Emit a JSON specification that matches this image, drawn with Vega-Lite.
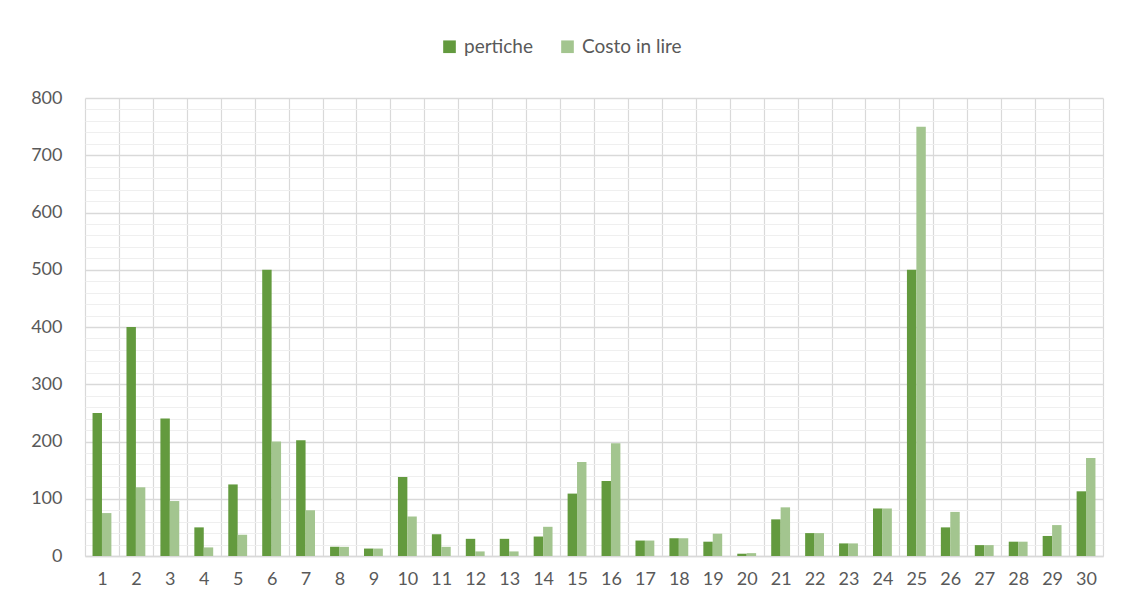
{
  "$schema": "https://vega.github.io/schema/vega-lite/v6.json",
  "width": 1018,
  "height": 458,
  "autosize": {"type": "none"},
  "padding": {"left": 85, "top": 98, "right": 22, "bottom": 58},
  "background": "#ffffff",
  "config": {
    "font": "Lato",
    "view": {"stroke": null},
    "axis": {"labelFont": "Lato", "labelColor": "#595959", "labelFontSize": 18}
  },
  "data": {
    "values": [
      {"n": 1, "serie": "pertiche", "valore": 250}, {"n": 1, "serie": "Costo in lire", "valore": 75},
      {"n": 2, "serie": "pertiche", "valore": 400}, {"n": 2, "serie": "Costo in lire", "valore": 120},
      {"n": 3, "serie": "pertiche", "valore": 240}, {"n": 3, "serie": "Costo in lire", "valore": 96},
      {"n": 4, "serie": "pertiche", "valore": 50}, {"n": 4, "serie": "Costo in lire", "valore": 15},
      {"n": 5, "serie": "pertiche", "valore": 125}, {"n": 5, "serie": "Costo in lire", "valore": 37},
      {"n": 6, "serie": "pertiche", "valore": 500}, {"n": 6, "serie": "Costo in lire", "valore": 200},
      {"n": 7, "serie": "pertiche", "valore": 202}, {"n": 7, "serie": "Costo in lire", "valore": 80},
      {"n": 8, "serie": "pertiche", "valore": 16}, {"n": 8, "serie": "Costo in lire", "valore": 16},
      {"n": 9, "serie": "pertiche", "valore": 13}, {"n": 9, "serie": "Costo in lire", "valore": 13},
      {"n": 10, "serie": "pertiche", "valore": 138}, {"n": 10, "serie": "Costo in lire", "valore": 69},
      {"n": 11, "serie": "pertiche", "valore": 38}, {"n": 11, "serie": "Costo in lire", "valore": 16},
      {"n": 12, "serie": "pertiche", "valore": 30}, {"n": 12, "serie": "Costo in lire", "valore": 8},
      {"n": 13, "serie": "pertiche", "valore": 30}, {"n": 13, "serie": "Costo in lire", "valore": 8},
      {"n": 14, "serie": "pertiche", "valore": 34}, {"n": 14, "serie": "Costo in lire", "valore": 51},
      {"n": 15, "serie": "pertiche", "valore": 109}, {"n": 15, "serie": "Costo in lire", "valore": 164},
      {"n": 16, "serie": "pertiche", "valore": 131}, {"n": 16, "serie": "Costo in lire", "valore": 197},
      {"n": 17, "serie": "pertiche", "valore": 27}, {"n": 17, "serie": "Costo in lire", "valore": 27},
      {"n": 18, "serie": "pertiche", "valore": 31}, {"n": 18, "serie": "Costo in lire", "valore": 31},
      {"n": 19, "serie": "pertiche", "valore": 25}, {"n": 19, "serie": "Costo in lire", "valore": 39},
      {"n": 20, "serie": "pertiche", "valore": 4}, {"n": 20, "serie": "Costo in lire", "valore": 5},
      {"n": 21, "serie": "pertiche", "valore": 64}, {"n": 21, "serie": "Costo in lire", "valore": 85},
      {"n": 22, "serie": "pertiche", "valore": 40}, {"n": 22, "serie": "Costo in lire", "valore": 40},
      {"n": 23, "serie": "pertiche", "valore": 22}, {"n": 23, "serie": "Costo in lire", "valore": 22},
      {"n": 24, "serie": "pertiche", "valore": 83}, {"n": 24, "serie": "Costo in lire", "valore": 83},
      {"n": 25, "serie": "pertiche", "valore": 500}, {"n": 25, "serie": "Costo in lire", "valore": 750},
      {"n": 26, "serie": "pertiche", "valore": 50}, {"n": 26, "serie": "Costo in lire", "valore": 77},
      {"n": 27, "serie": "pertiche", "valore": 19}, {"n": 27, "serie": "Costo in lire", "valore": 19},
      {"n": 28, "serie": "pertiche", "valore": 25}, {"n": 28, "serie": "Costo in lire", "valore": 25},
      {"n": 29, "serie": "pertiche", "valore": 35}, {"n": 29, "serie": "Costo in lire", "valore": 54},
      {"n": 30, "serie": "pertiche", "valore": 113}, {"n": 30, "serie": "Costo in lire", "valore": 171}
    ]
  },
  "mark": {"type": "bar"},
  "encoding": {
    "x": {
      "field": "n",
      "type": "ordinal",
      "scale": {"paddingInner": 0, "paddingOuter": 0},
      "axis": {
        "title": null,
        "labelAngle": 0,
        "tickBand": "extent",
        "ticks": false,
        "grid": true,
        "gridColor": "#D9D9D9",
        "gridWidth": 1.2,
        "domain": true,
        "domainColor": "#D9D9D9",
        "domainWidth": 1.5,
        "labelPadding": 14
      }
    },
    "xOffset": {
      "field": "serie",
      "type": "nominal",
      "sort": ["pertiche", "Costo in lire"],
      "scale": {"paddingInner": 0, "paddingOuter": 0.8}
    },
    "y": {
      "field": "valore",
      "type": "quantitative",
      "scale": {"domain": [0, 800], "nice": false},
      "axis": {
        "title": null,
        "values": [0, 20, 40, 60, 80, 100, 120, 140, 160, 180, 200, 220, 240, 260, 280, 300, 320, 340, 360, 380, 400, 420, 440, 460, 480, 500, 520, 540, 560, 580, 600, 620, 640, 660, 680, 700, 720, 740, 760, 780, 800],
        "labelExpr": "datum.value % 100 === 0 ? datum.label : ''",
        "ticks": false,
        "domain": false,
        "grid": true,
        "gridColor": {"condition": {"test": "datum.value % 100 === 0", "value": "#D9D9D9"}, "value": "#EFEFEF"},
        "gridWidth": {"condition": {"test": "datum.value % 100 === 0", "value": 1.5}, "value": 1.2},
        "labelPadding": 23
      }
    },
    "color": {
      "field": "serie",
      "type": "nominal",
      "sort": ["pertiche", "Costo in lire"],
      "scale": {"domain": ["pertiche", "Costo in lire"], "range": ["#639A3E", "#A3C58F"]},
      "legend": {
        "title": null,
        "orient": "none",
        "direction": "horizontal",
        "legendX": 355,
        "legendY": -61,
        "symbolType": "square",
        "symbolSize": 160,
        "symbolStrokeWidth": 0,
        "labelFont": "Lato",
        "labelFontSize": 19,
        "labelColor": "#595959",
        "columnPadding": 24,
        "labelOffset": 5
      }
    }
  }
}
